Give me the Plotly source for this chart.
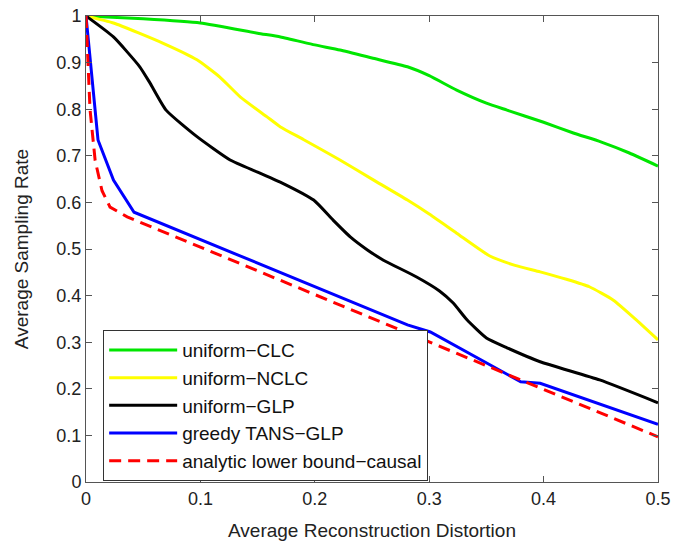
import plotly.graph_objects as go

# Average reconstruction distortion vs. average sampling rate
clc_x = [0, 0.05, 0.1, 0.15, 0.17, 0.2, 0.222, 0.25, 0.281, 0.3, 0.324, 0.35, 0.368, 0.4, 0.426, 0.45, 0.475, 0.5]
clc_y = [1.0, 0.994, 0.985, 0.963, 0.955, 0.938, 0.927, 0.91, 0.891, 0.872, 0.841, 0.813, 0.798, 0.772, 0.749, 0.73, 0.706, 0.678]

nclc_x = [0, 0.024, 0.067, 0.097, 0.117, 0.135, 0.158, 0.17, 0.19, 0.222, 0.25, 0.281, 0.3, 0.324, 0.353, 0.375, 0.397, 0.42, 0.44, 0.461, 0.48, 0.5]
nclc_y = [1.0, 0.985, 0.942, 0.906, 0.869, 0.826, 0.784, 0.762, 0.735, 0.691, 0.65, 0.605, 0.575, 0.534, 0.485, 0.465, 0.451, 0.435, 0.419, 0.39, 0.35, 0.305]

glp_x = [0, 0.024, 0.047, 0.056, 0.07, 0.097, 0.126, 0.15, 0.172, 0.199, 0.216, 0.231, 0.246, 0.26, 0.289, 0.309, 0.321, 0.333, 0.35, 0.368, 0.397, 0.449, 0.5]
glp_y = [1.0, 0.955, 0.891, 0.856, 0.798, 0.741, 0.691, 0.665, 0.641, 0.605, 0.562, 0.526, 0.498, 0.476, 0.44, 0.41, 0.384, 0.348, 0.309, 0.288, 0.258, 0.219, 0.17]

tans_x = [0, 0.0105, 0.024, 0.042, 0.281, 0.301, 0.38, 0.397, 0.5]
tans_y = [1.0, 0.734, 0.648, 0.579, 0.337, 0.322, 0.215, 0.212, 0.124]

bound_x = [0, 0.0035, 0.008, 0.014, 0.021, 0.036, 0.1, 0.2, 0.3, 0.4, 0.5]
bound_y = [1.0, 0.8, 0.69, 0.625, 0.59, 0.569, 0.504, 0.402, 0.3, 0.198, 0.097]

x_ticks = [0, 0.1, 0.2, 0.3, 0.4, 0.5]
x_tick_labels = ["0", "0.1", "0.2", "0.3", "0.4", "0.5"]
y_ticks = [0, 0.1, 0.2, 0.3, 0.4, 0.5, 0.6, 0.7, 0.8, 0.9, 1.0]
y_tick_labels = ["0", "0.1", "0.2", "0.3", "0.4", "0.5", "0.6", "0.7", "0.8", "0.9", "1"]

FONT = "Liberation Sans, Arial, sans-serif"

fig = go.Figure()
fig.add_trace(go.Scatter(x=clc_x, y=clc_y, mode="lines", name="uniform\u2212CLC",
                         line=dict(color="#00e600", width=3, shape="spline", smoothing=0.5)))
fig.add_trace(go.Scatter(x=nclc_x, y=nclc_y, mode="lines", name="uniform\u2212NCLC",
                         line=dict(color="#ffff00", width=3, shape="spline", smoothing=0.5)))
fig.add_trace(go.Scatter(x=glp_x, y=glp_y, mode="lines", name="uniform\u2212GLP",
                         line=dict(color="#000000", width=3, shape="spline", smoothing=0.5)))
fig.add_trace(go.Scatter(x=tans_x, y=tans_y, mode="lines", name="greedy TANS\u2212GLP",
                         line=dict(color="#0000ff", width=3)))
fig.add_trace(go.Scatter(x=bound_x, y=bound_y, mode="lines", name="analytic lower bound\u2212causal",
                         line=dict(color="#ff0000", width=3, dash="12px,7px")))

axis_common = dict(
    showgrid=False, zeroline=False, showline=True, linecolor="#555", linewidth=1,
    mirror="ticks", ticks="inside", ticklen=6, tickcolor="#555", automargin=False,
    tickfont=dict(family=FONT, size=18, color="#222"),
)

fig.update_xaxes(range=[0, 0.5], tickvals=x_ticks, ticktext=x_tick_labels,
                 title=dict(text="Average Reconstruction Distortion", standoff=20,
                            font=dict(family=FONT, size=19, color="#222")),
                 **axis_common)
fig.update_yaxes(range=[0, 1], tickvals=y_ticks, ticktext=y_tick_labels,
                 title=dict(text="Average Sampling Rate", standoff=22,
                            font=dict(family=FONT, size=19, color="#222")),
                 **axis_common)

fig.update_layout(
    width=689, height=541,
    margin=dict(l=86, r=31, t=16, b=59),
    paper_bgcolor="white", plot_bgcolor="white",
    showlegend=True,
    legend=dict(x=0.03, y=0.326, xanchor="left", yanchor="top",
                bgcolor="white", bordercolor="#333", borderwidth=1,
                itemwidth=68, tracegroupgap=0,
                font=dict(family=FONT, size=19, color="#111")),
)

fig.write_html("out.html")
